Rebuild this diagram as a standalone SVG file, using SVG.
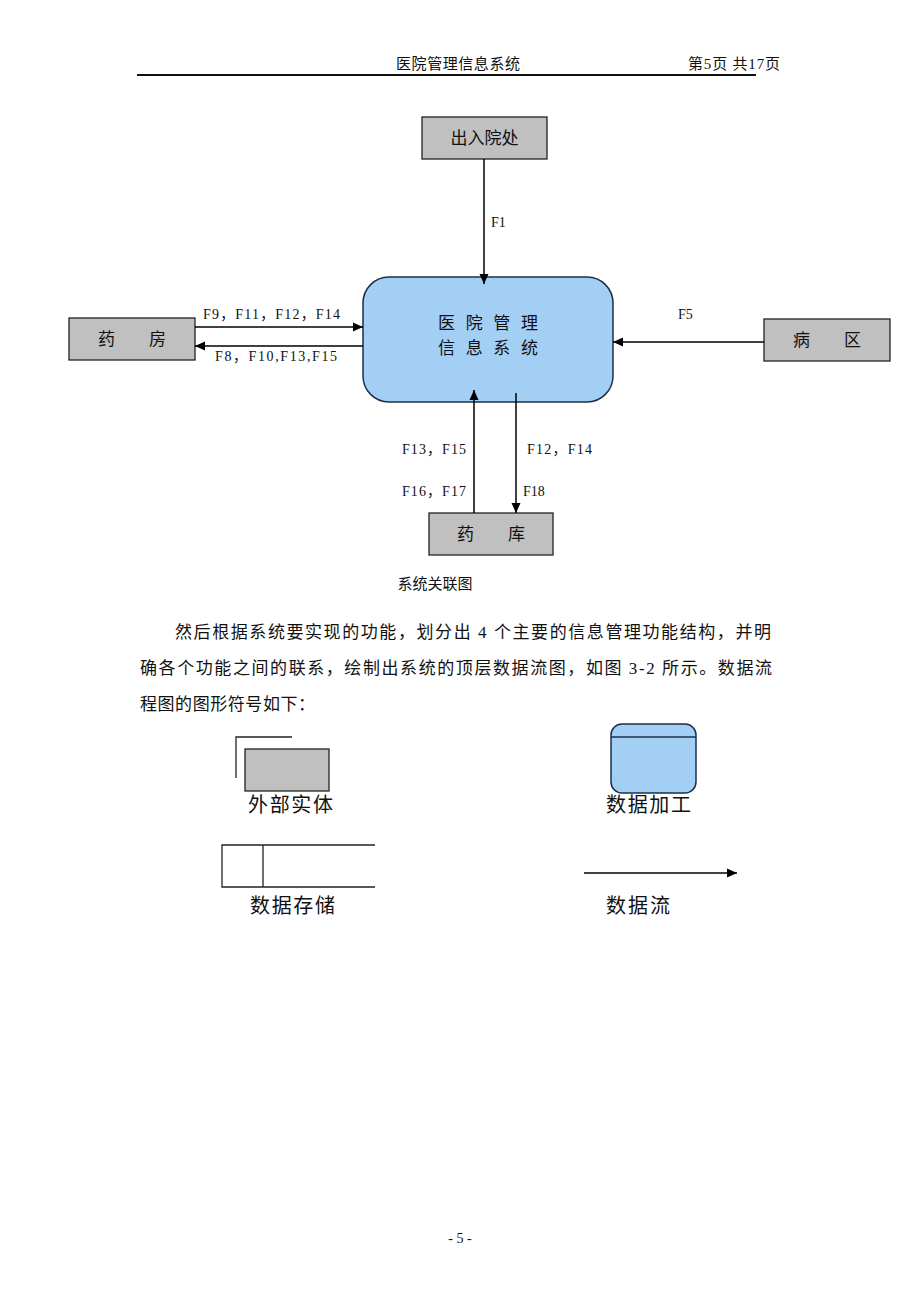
<svg xmlns="http://www.w3.org/2000/svg" width="920" height="1302" viewBox="0 0 920 1302">
<style>
text{font-family:"Liberation Serif","Noto Sans CJK SC",serif;fill:#111}
.ext{fill:#c0c0c0;stroke:#222;stroke-width:1.3}
.proc{fill:#a3cff5;stroke:#1c2f48;stroke-width:1.5}
.ln{stroke:#000;stroke-width:1.5;fill:none}
.lab{font-size:14px}
.box{font-size:17px}
.body{font-size:17px}
.leg{font-size:20px}
</style>
<defs>
<marker id="ah" viewBox="0 0 10 10" refX="10" refY="5" markerWidth="10" markerHeight="10" markerUnits="userSpaceOnUse" orient="auto">
<path d="M0,0.5 L10,5 L0,9.5 Z" fill="#000"/>
</marker>
</defs>
<rect width="920" height="1302" fill="#fff"/>

<g id="header">
<text x="458" y="69" font-size="15" text-anchor="middle" textLength="124">医院管理信息系统</text>
<text x="688" y="69" font-size="15" textLength="92">第5页 共17页</text>
<line x1="137" y1="75" x2="756" y2="75" stroke="#111" stroke-width="2"/>
</g>

<g id="n-churuyuan">
<rect class="ext" x="422" y="117" width="125" height="42"/>
<text class="box" x="484.5" y="144" text-anchor="middle">出入院处</text>
</g>

<g id="n-system">
<rect class="proc" x="363" y="277" width="250" height="125" rx="26" ry="26"/>
<text x="488" y="329" font-size="17" text-anchor="middle" fill="#1a2540" textLength="100">医 院 管 理</text>
<text x="488" y="354" font-size="17" text-anchor="middle" fill="#1a2540" textLength="100">信 息 系 统</text>
</g>

<g id="n-yaofang">
<rect class="ext" x="69" y="318" width="126" height="42"/>
<text class="box" x="132" y="345" text-anchor="middle">药　　房</text>
</g>

<g id="n-bingqu">
<rect class="ext" x="764" y="319" width="126" height="42"/>
<text class="box" x="827" y="346" text-anchor="middle">病　　区</text>
</g>

<g id="n-yaoku">
<rect class="ext" x="429" y="513" width="124" height="42"/>
<text class="box" x="491" y="540" text-anchor="middle">药　　库</text>
</g>

<g id="connectors">
<line class="ln" x1="484" y1="159" x2="484" y2="284" marker-end="url(#ah)"/>
<line class="ln" x1="195" y1="327" x2="363" y2="327" marker-end="url(#ah)"/>
<line class="ln" x1="363" y1="346" x2="195" y2="346" marker-end="url(#ah)"/>
<line class="ln" x1="764" y1="342" x2="613" y2="342" marker-end="url(#ah)"/>
<line class="ln" x1="474" y1="513" x2="474" y2="390" marker-end="url(#ah)"/>
<line class="ln" x1="516" y1="393" x2="516" y2="513" marker-end="url(#ah)"/>
<text class="lab" x="491" y="227">F1</text>
<text class="lab" x="203" y="319" textLength="137">F9，F11，F12，F14</text>
<text class="lab" x="215" y="361" textLength="122">F8，F10,F13,F15</text>
<text class="lab" x="678" y="319">F5</text>
<text class="lab" x="402" y="454" textLength="64">F13，F15</text>
<text class="lab" x="402" y="496" textLength="64">F16，F17</text>
<text class="lab" x="527" y="454" textLength="65">F12，F14</text>
<text class="lab" x="523" y="496">F18</text>
</g>

<g id="caption">
<text x="435" y="589" font-size="15" text-anchor="middle">系统关联图</text>
</g>

<g id="paragraph">
<text class="body" x="175" y="638" textLength="596">然后根据系统要实现的功能，划分出 4 个主要的信息管理功能结构，并明</text>
<text class="body" x="140" y="674" textLength="632">确各个功能之间的联系，绘制出系统的顶层数据流图，如图 3-2 所示。数据流</text>
<text class="body" x="140" y="710" textLength="175">程图的图形符号如下：</text>
</g>

<g id="legend-external">
<path d="M236,778 V737 H292" fill="none" stroke="#222" stroke-width="1.3"/>
<rect class="ext" x="245" y="749" width="84" height="42"/>
<text class="leg" x="248" y="812" textLength="85">外部实体</text>
</g>

<g id="legend-process">
<rect class="proc" x="611" y="724" width="85" height="69" rx="11" ry="11"/>
<line x1="611" y1="737" x2="696" y2="737" stroke="#1c2f48" stroke-width="1.5"/>
<text class="leg" x="606" y="812" textLength="85">数据加工</text>
</g>

<g id="legend-store">
<path d="M375,845 H222 V887 H375 M263,845 V887" fill="none" stroke="#222" stroke-width="1.3"/>
<text class="leg" x="250" y="913" textLength="85">数据存储</text>
</g>

<g id="legend-flow">
<line class="ln" x1="584" y1="873" x2="737" y2="873" marker-end="url(#ah)"/>
<text class="leg" x="606" y="913" textLength="64">数据流</text>
</g>

<g id="footer">
<text x="460" y="1243" font-size="14" text-anchor="middle">- 5 -</text>
</g>
</svg>
